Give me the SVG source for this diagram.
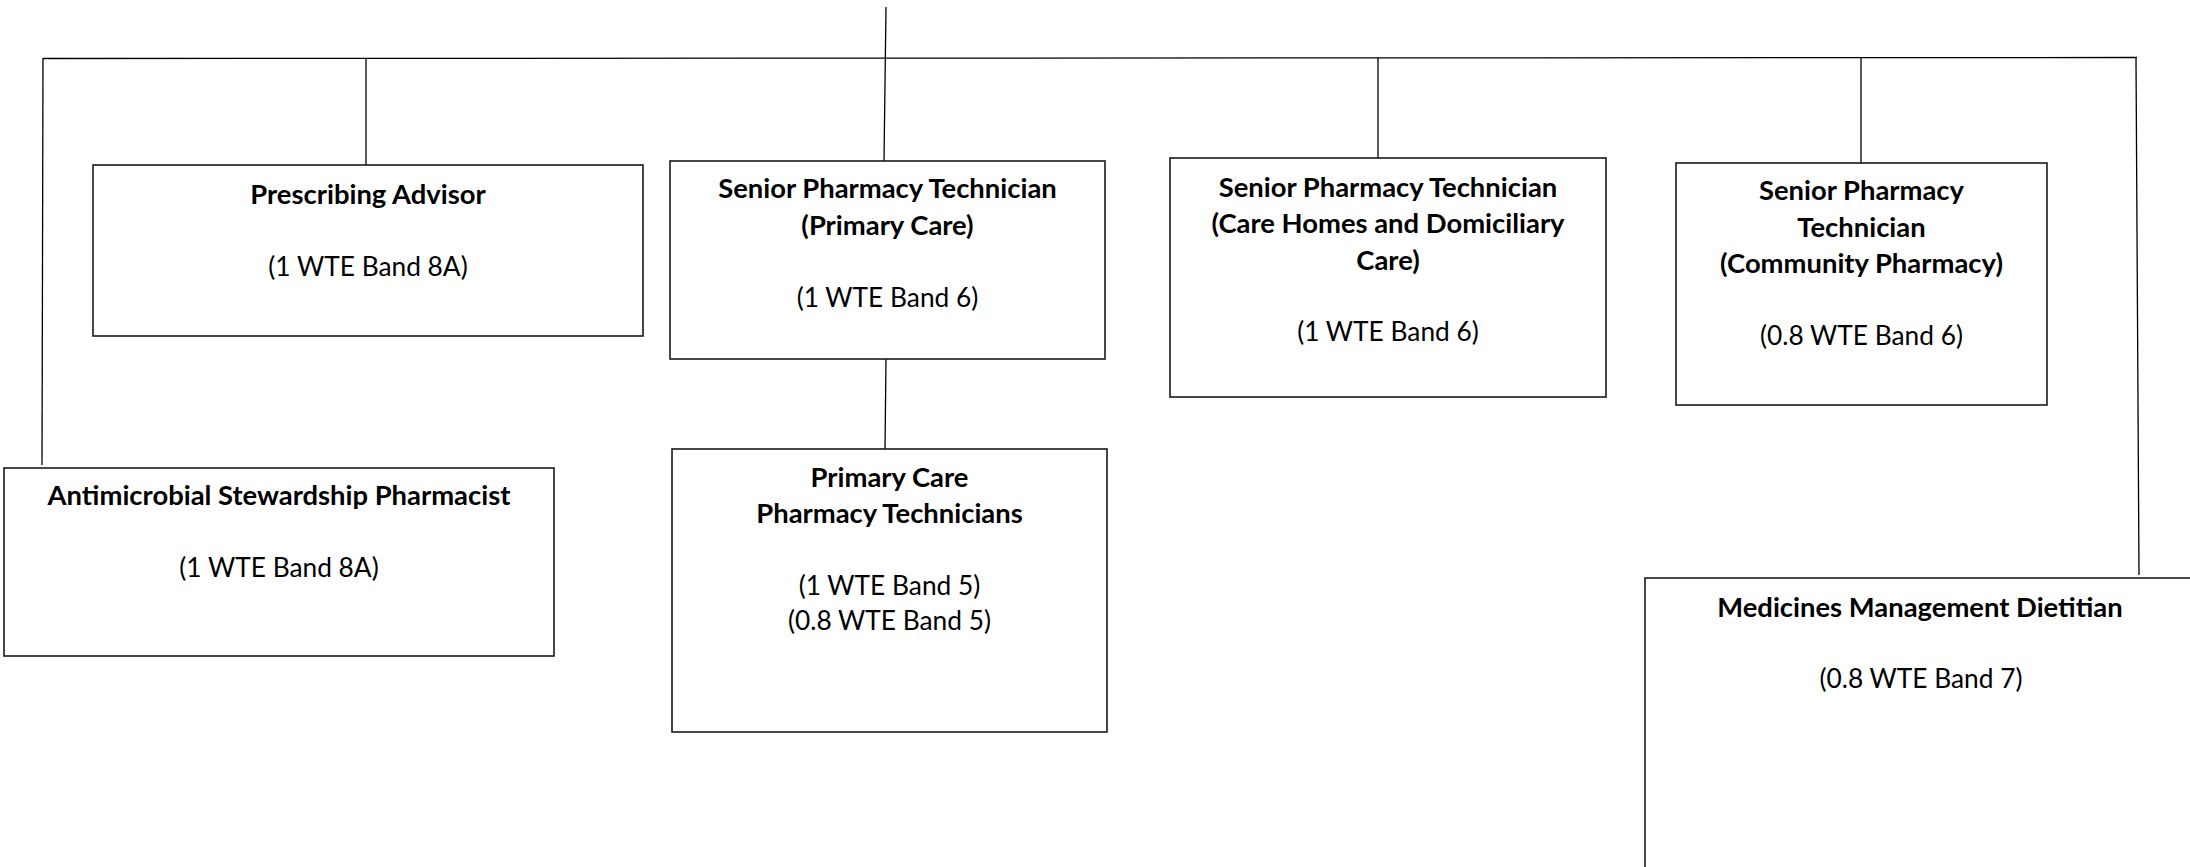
<svg xmlns="http://www.w3.org/2000/svg" width="2190" height="867" viewBox="0 0 2190 867">
<style>
.box{fill:#fff;stroke:#1a1a1a;stroke-width:1.6}
.ln{stroke:#000;stroke-width:1.3;fill:none}
text{font-family:Lato,"Open Sans",sans-serif;font-size:26.3px;fill:#000;text-anchor:middle}
.b{font-weight:bold;font-size:27.4px}
</style>
<rect width="2190" height="867" fill="#fff"/>
<g id="connectors">
<line class="ln" x1="886" y1="7" x2="884" y2="161"/>
<line class="ln" x1="43" y1="58.5" x2="2137" y2="57.5"/>
<line class="ln" x1="43" y1="58" x2="42" y2="465"/>
<line class="ln" x1="366" y1="59" x2="366" y2="165"/>
<line class="ln" x1="1378" y1="58" x2="1378" y2="158"/>
<line class="ln" x1="1861" y1="58" x2="1861" y2="163"/>
<line class="ln" x1="2136" y1="58" x2="2139" y2="575"/>
<line class="ln" x1="886" y1="359" x2="885" y2="449"/>
</g>
<g id="prescribing-advisor">
<rect class="box" x="93" y="165" width="550" height="171"/>
<text class="b" x="368" y="204">Prescribing Advisor</text>
<text x="368" y="276">(1 WTE Band 8A)</text>
</g>
<g id="senior-tech-primary">
<rect class="box" x="670" y="161" width="435" height="198"/>
<text class="b" x="887.5" y="198">Senior Pharmacy Technician</text>
<text class="b" x="887.5" y="235">(Primary Care)</text>
<text x="887.5" y="307">(1 WTE Band 6)</text>
</g>
<g id="senior-tech-carehomes">
<rect class="box" x="1170" y="158" width="436" height="239"/>
<text class="b" x="1388" y="197">Senior Pharmacy Technician</text>
<text class="b" x="1388" y="233">(Care Homes and Domiciliary</text>
<text class="b" x="1388" y="270">Care)</text>
<text x="1388" y="341">(1 WTE Band 6)</text>
</g>
<g id="senior-tech-community">
<rect class="box" x="1676" y="163" width="371" height="242"/>
<text class="b" x="1861.5" y="200">Senior Pharmacy</text>
<text class="b" x="1861.5" y="237">Technician</text>
<text class="b" x="1861.5" y="273">(Community Pharmacy)</text>
<text x="1861.5" y="345">(0.8 WTE Band 6)</text>
</g>
<g id="antimicrobial">
<rect class="box" x="4" y="468" width="550" height="188"/>
<text class="b" x="279" y="505">Antimicrobial Stewardship Pharmacist</text>
<text x="279" y="577">(1 WTE Band 8A)</text>
</g>
<g id="primary-care-techs">
<rect class="box" x="672" y="449" width="435" height="283"/>
<text class="b" x="889.5" y="487">Primary Care</text>
<text class="b" x="889.5" y="523">Pharmacy Technicians</text>
<text x="889.5" y="595">(1 WTE Band 5)</text>
<text x="889.5" y="630">(0.8 WTE Band 5)</text>
</g>
<g id="dietitian">
<rect class="box" x="1645" y="578" width="552" height="300"/>
<text class="b" x="1920" y="617">Medicines Management Dietitian</text>
<text x="1921" y="688">(0.8 WTE Band 7)</text>
</g>
</svg>
